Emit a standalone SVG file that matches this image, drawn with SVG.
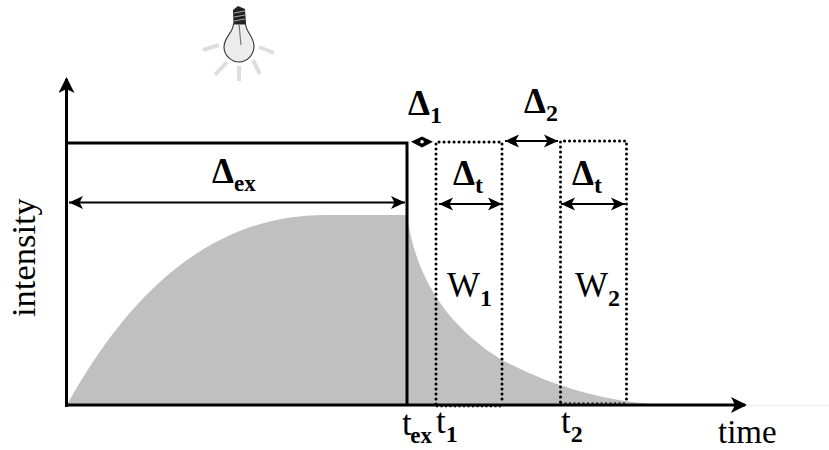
<svg xmlns="http://www.w3.org/2000/svg" width="829" height="450" viewBox="0 0 829 450">
<style>
text{font-family:"Liberation Serif","Times New Roman",serif;fill:#000}
.b{font-weight:bold}
.L{font-size:35px}
.S{font-size:24px}
.X{font-size:23px}
.M{font-size:35px}
.dot{fill:none;stroke:#000;stroke-width:3;stroke-dasharray:0.1 4.9;stroke-linecap:round}
.arr{fill:none;stroke:#000;stroke-width:1.800;marker-start:url(#hs);marker-end:url(#he)}
.ray{stroke:#dedede;stroke-width:4;fill:none}
</style>
<defs>
<marker id="he" markerUnits="userSpaceOnUse" markerWidth="16" markerHeight="16" refX="14" refY="7" orient="auto"><path d="M0 0.500L14 7L0 13.500L3.500 7Z"/></marker>
<marker id="hs" markerUnits="userSpaceOnUse" markerWidth="16" markerHeight="16" refX="0" refY="7" orient="auto"><path d="M14 0.500L0 7L14 13.500L10.500 7Z"/></marker>
<marker id="ax" markerUnits="userSpaceOnUse" markerWidth="18" markerHeight="18" refX="14" refY="8" orient="auto"><path d="M0 0L16 8L0 16L4 8Z"/></marker>
</defs>
<g id="bulb">
<path class="ray" d="M203 50L219 45M259 47L274 53M215 75L227 62M260 74L253 60M239 66V81"/>
<path d="M233.500 24C233 33 224 37 224 47C224 56 232 62 239 62C247 62 254 55 254 46C254 37 246 32 245.500 24Z" fill="#ececec" stroke="#333" stroke-width="1.100"/>
<path d="M233.500 24L233 10L238 6L245 9L246 24Z" fill="#222"/>
<path d="M234 13L245 11M234 17L245 15M234 21L245 19" stroke="#aaa" stroke-width="1"/>
<path d="M239 24L241 45" stroke="#777" stroke-width="1.200" fill="none"/>
</g>
<g id="curve">
<path fill="#c0c0c0" d="M66 405L68 403C112 325 190 215 325 215L407 215C415 275 445 325 502 360C540 380 590 400 660 405Z"/>
</g>
<g id="connectors">
<path d="M66.500 407V79" fill="none" stroke="#000" stroke-width="3" marker-end="url(#ax)"/>
<path d="M65 405H745" fill="none" stroke="#000" stroke-width="3" marker-end="url(#ax)"/>
<path d="M747 405.500H829" stroke="#eee" stroke-width="1"/>
<path d="M66.500 143H407V405" fill="none" stroke="#000" stroke-width="3"/>
<path class="dot" d="M436 404V142H502V404"/>
<path class="dot" d="M560.500 402V141H626.500V402"/>
<path d="M436 406.500H502M560 403.200H626" fill="none" stroke="#000" stroke-width="1.300" stroke-dasharray="2 2.500"/>
<path class="arr" d="M69 202.500H405"/>
<path d="M411 141.700L422 136.500L433 141.700L422 147.500Z"/>
<circle cx="422" cy="141.700" r="1.800" fill="#fff"/>
<path class="arr" d="M505 141H558"/>
<path class="arr" d="M439 204H502"/>
<path class="arr" d="M561 204H625"/>
</g>
<g id="labels">
<text x="212" y="183" class="L b">Δ<tspan class="X" dy="8">ex</tspan></text>
<text x="408" y="115" class="L b">Δ<tspan class="S" dy="8">1</tspan></text>
<text x="524" y="113" class="L b">Δ<tspan class="S" dy="8">2</tspan></text>
<text x="453" y="185" class="L b">Δ<tspan class="S" dy="8">t</tspan></text>
<text x="572" y="185" class="L b">Δ<tspan class="S" dy="8">t</tspan></text>
<text x="447" y="297" class="M">W<tspan class="S b" dy="9">1</tspan></text>
<text x="575" y="297" class="M">W<tspan class="S b" dy="9">2</tspan></text>
<text x="402" y="435" class="M">t<tspan class="X b" dy="8" dx="-1.500">ex</tspan></text>
<text x="436" y="433" class="M">t<tspan class="S b" dy="9">1</tspan></text>
<text x="561" y="433" class="M">t<tspan class="S b" dy="9">2</tspan></text>
<text x="718" y="443" style="font-size:33px">time</text>
<text transform="translate(35 317) rotate(-90)" style="font-size:34.500px">intensity</text>
</g>
</svg>
